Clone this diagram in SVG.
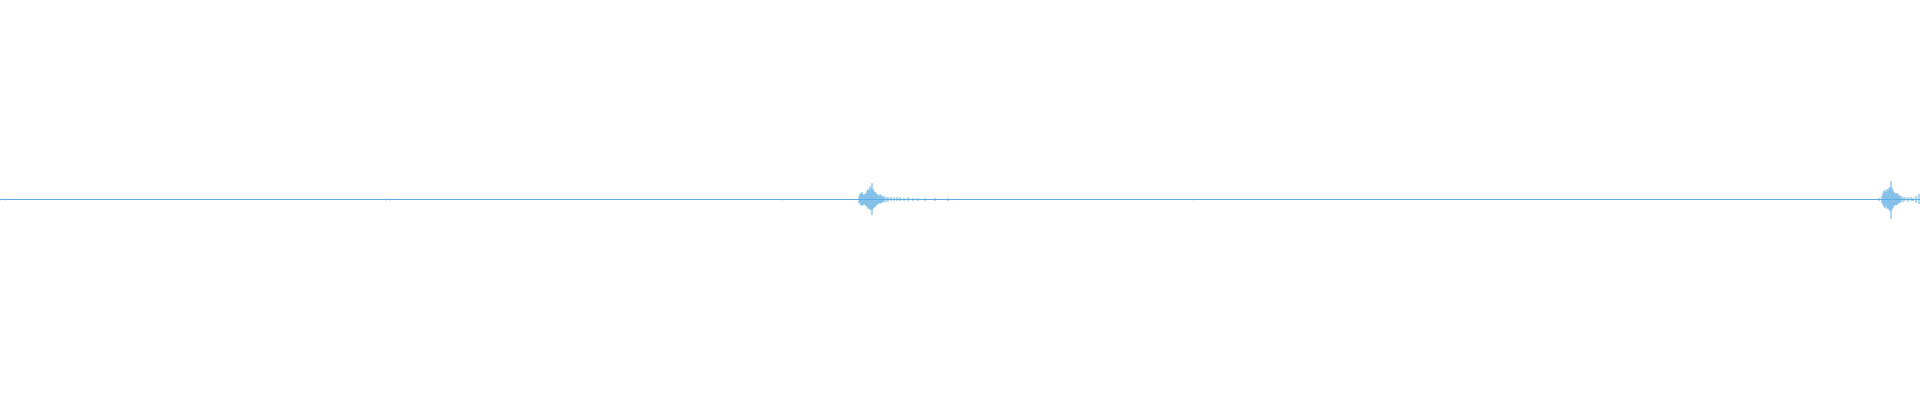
<svg xmlns="http://www.w3.org/2000/svg" width="1920" height="400" viewBox="0 0 1920 400">
<style>.w{stroke:#5dade2;fill:none;stroke-width:1}</style>
<rect width="1920" height="400" fill="#fff"/>
<g id="waveform">
<path class="w" d="M0 199.5H1920"/>
<path class="w" d="M0 198.5v2M5 198.8v1.6M386 198.5v2M390 198.8v1.6M782 198.8v1.6M1193 198.8v1.6"/>
<path class="w" stroke-width="1" d="M859 196v7M860 194v10M861 193v12M862 192v14M863 194v11M864 195v9M865 194v11M866 193v13M867 191v16M868 189v20M869 190v18M870 186v24M871 188v22M872 183v32M873 189v20M874 191v17M875 192v15M876 193v13M877 194v11M878 195v9M879 196v7M880 194v10M881 195v8M882 196v7M883 197v5M884 196v6M886 197v5M888 197v5M891 197v4M894 197v4M897 197v4M900 197v4M904 198v3M908 197v4M913 198v3M918 198v3M925 198v3M935 198v3M948 198v3"/>
<path class="w" d="M1879 198v3M1882 196v7M1883 193v12M1884 191v16M1885 190v18M1886 192v14M1887 189v20M1888 190v18M1889 188v22M1890 187v24M1891 181v38M1892 188v22M1893 190v18M1894 192v14M1895 193v12M1896 194v11M1897 193v12M1898 194v10M1899 195v8M1900 196v7M1901 196v6M1903 197v5M1905 197v4M1908 197v5M1911 197v4M1913 198v3M1916 196v7M1919 194v10"/>
</g>
</svg>
